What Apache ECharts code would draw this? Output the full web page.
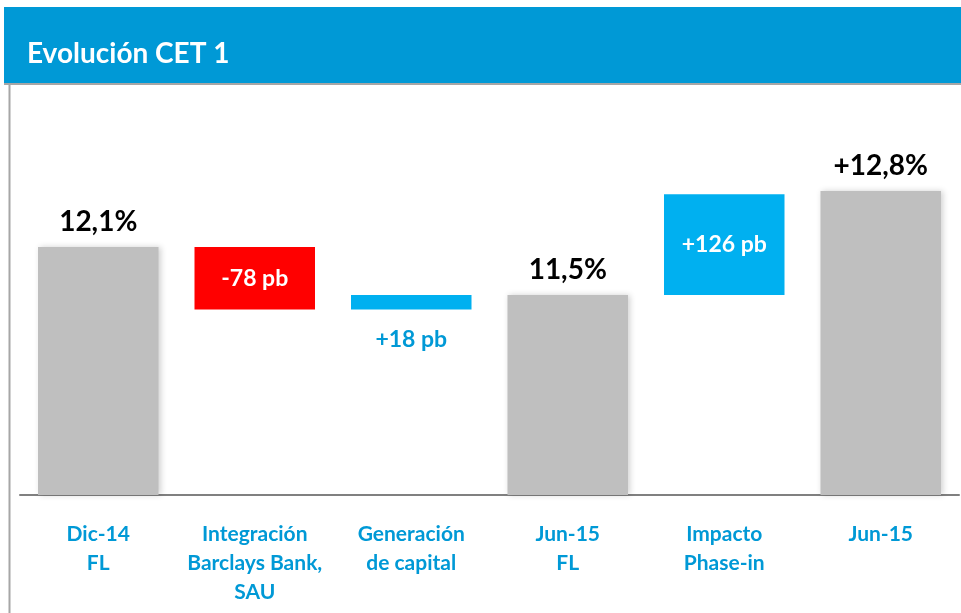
<!DOCTYPE html>
<html>
<head>
<meta charset="utf-8">
<script src="https://cdn.jsdelivr.net/npm/echarts@6/dist/echarts.min.js"></script>
<style>
  html, body { margin: 0; padding: 0; background: #fff; }
  #main { width: 961px; height: 613px; }
</style>
</head>
<body>
<div id="main"></div>
<script>
// CET 1 evolution (waterfall), values in %
const categories = ['Dic-14\nFL', 'Integración\nBarclays Bank,\nSAU', 'Generación\nde capital', 'Jun-15\nFL', 'Impacto\nPhase-in', 'Jun-15'];
const totals = [12.1, null, null, 11.5, null, 12.8];
const changesBp = [null, -78, 18, null, 126, null];
const valueLabels = ['12,1%', '-78 pb', '+18 pb', '11,5%', '+126 pb', '+12,8%'];

// build the waterfall: invisible base + visible part
let running = 0;
const baseData = [];
const barData = [];
categories.forEach((c, i) => {
  if (totals[i] != null) {
    running = totals[i];
    baseData.push(0);
    barData.push({ value: totals[i], kind: 'total' });
  } else {
    const d = changesBp[i] / 100;
    const low = d < 0 ? running + d : running;
    baseData.push(low);
    barData.push({ value: Math.abs(d), kind: d < 0 ? 'neg' : 'pos' });
    running += d;
  }
});

const colors = { total: '#bfbfbf', neg: '#ff0000', pos: '#00b0f0' };

const seriesData = barData.map((d, i) => {
  const item = { value: d.value, itemStyle: { color: colors[d.kind] } };
  if (d.kind === 'total') {
    item.itemStyle.shadowColor = 'rgba(0,0,0,0.18)';
    item.itemStyle.shadowBlur = 6;
    item.itemStyle.shadowOffsetX = 2;
    item.label = { position: 'top', distance: 11, color: '#000', fontSize: 28 };
  } else if (d.value < 0.3) {
    item.label = { position: 'bottom', distance: 19, color: '#0099d6', fontSize: 23 };
  } else {
    item.label = { position: 'inside', color: '#fff', fontSize: 23 };
  }
  return item;
});

const chart = echarts.init(document.getElementById('main'));
chart.setOption({
  animation: false,
  textStyle: { fontFamily: 'Lato' },
  title: {
    text: 'Evolución CET 1',
    left: 22,
    top: 35,
    textStyle: { color: '#fff', fontSize: 28, fontWeight: 'bold', fontFamily: 'Lato' }
  },
  graphic: [
    { type: 'rect', z: -1, shape: { x: 4, y: 7, width: 957, height: 76 }, style: { fill: '#0099d6' } },
    { type: 'line', shape: { x1: 4, y1: 84, x2: 961, y2: 84 }, style: { stroke: '#a6a6a6', lineWidth: 2 } },
    { type: 'line', shape: { x1: 9.5, y1: 84, x2: 9.5, y2: 613 }, style: { stroke: '#a6a6a6', lineWidth: 2 } }
  ],
  grid: { left: 20, right: 2, top: 95, bottom: 118 },
  xAxis: {
    type: 'category',
    data: categories,
    axisLine: { lineStyle: { color: '#808080', width: 2 } },
    axisTick: { show: false },
    axisLabel: {
      color: '#0099d6',
      fontSize: 21,
      fontWeight: 'bold',
      lineHeight: 29,
      margin: 25,
      interval: 0
    }
  },
  yAxis: {
    type: 'value',
    min: 9,
    max: 14,
    show: false,
    splitLine: { show: false }
  },
  series: [
    {
      type: 'bar',
      stack: 'w',
      data: baseData,
      itemStyle: { color: 'transparent' },
      barCategoryGap: '23%',
      silent: true
    },
    {
      type: 'bar',
      stack: 'w',
      data: seriesData,
      barCategoryGap: '23%',
      label: {
        show: true,
        fontWeight: 'bold',
        fontFamily: 'Lato',
        formatter: p => valueLabels[p.dataIndex]
      }
    }
  ]
});
</script>
</body>
</html>
